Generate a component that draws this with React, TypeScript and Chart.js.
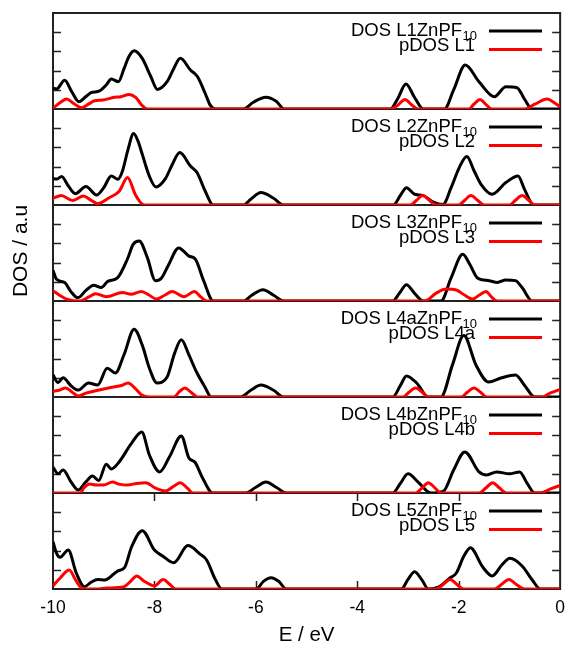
import { useEffect, useRef } from "react";
import { Chart, registerables } from "chart.js";

Chart.register(...registerables);

type Pt = [number, number];

const xTickValues = [-10, -8, -6, -4, -2, 0];
const yTickValues = [1, 2, 3, 4];
const panelNames = ["L1", "L2", "L3", "L4a", "L4b", "L5"];

const dosL1: Pt[] = [[-10,1.09],[-9.93,1.04],[-9.77,1.5],[-9.63,0.9],[-9.49,0.38],[-9.35,0.65],[-9.25,0.85],[-9.08,0.94],[-8.95,1.25],[-8.85,1.56],[-8.71,1.42],[-8.6,2.1],[-8.5,2.75],[-8.4,3.04],[-8.24,2.64],[-8.07,1.68],[-7.94,1.02],[-7.75,1.42],[-7.62,2.1],[-7.49,2.64],[-7.29,2.03],[-7.15,1.68],[-7.0,0.82],[-6.9,0.2],[-6.8,0],[-6.25,0],[-6.05,0.35],[-5.8,0.61],[-5.6,0.4],[-5.44,0],[-3.35,0],[-3.2,0.55],[-3.04,1.3],[-2.87,0.6],[-2.7,0],[-2.28,0],[-2.1,1.0],[-1.87,2.29],[-1.6,1.42],[-1.3,0.64],[-1.07,1.16],[-0.85,1.11],[-0.7,0.5],[-0.55,0],[0,0]];
const pdosL1: Pt[] = [[-10,0.05],[-9.85,0.35],[-9.73,0.52],[-9.6,0.3],[-9.44,0.07],[-9.3,0.25],[-9.18,0.43],[-9.02,0.47],[-8.79,0.61],[-8.66,0.64],[-8.5,0.76],[-8.37,0.6],[-8.25,0.2],[-8.14,0],[-3.35,0],[-3.2,0.2],[-3.06,0.5],[-2.92,0.2],[-2.8,0],[-1.8,0],[-1.7,0.25],[-1.58,0.5],[-1.45,0.2],[-1.35,0],[-0.7,0],[-0.5,0.25],[-0.26,0.52],[-0.1,0.3],[0,0.12]];

const dosL2: Pt[] = [[-10,1.37],[-9.93,1.35],[-9.83,1.48],[-9.7,1.0],[-9.56,0.59],[-9.35,0.96],[-9.14,0.52],[-9.0,0.9],[-8.85,1.51],[-8.72,1.34],[-8.63,1.77],[-8.52,2.9],[-8.41,3.72],[-8.32,3.3],[-8.24,2.64],[-8.1,1.5],[-7.97,0.94],[-7.78,1.39],[-7.65,2.1],[-7.5,2.73],[-7.29,2.03],[-7.16,1.69],[-7.0,0.73],[-6.84,0],[-6.25,0],[-6.1,0.3],[-5.9,0.65],[-5.65,0.35],[-5.45,0],[-3.29,0],[-3.15,0.5],[-3.03,0.9],[-2.87,0.56],[-2.71,0.5],[-2.5,0.15],[-2.31,0.03],[-2.15,0.9],[-1.98,2.0],[-1.84,2.52],[-1.7,1.8],[-1.56,1.08],[-1.34,0.56],[-1.07,1.17],[-0.83,1.51],[-0.7,0.8],[-0.52,0],[0,0]];
const pdosL2: Pt[] = [[-10,0.35],[-9.84,0.5],[-9.61,0.24],[-9.4,0.47],[-9.25,0.25],[-9.12,0.07],[-8.89,0.38],[-8.69,0.73],[-8.53,1.43],[-8.38,0.56],[-8.28,0.15],[-8.2,0],[-2.95,0],[-2.83,0.25],[-2.71,0.5],[-2.58,0.25],[-2.45,0],[-2.0,0],[-1.88,0.25],[-1.76,0.5],[-1.63,0.25],[-1.5,0],[-1.0,0],[-0.88,0.25],[-0.75,0.5],[-0.62,0.25],[-0.5,0],[0,0]];

const dosL3: Pt[] = [[-10,1.6],[-9.93,1.13],[-9.77,0.96],[-9.65,0.5],[-9.51,0.17],[-9.35,0.55],[-9.2,0.82],[-9.05,0.7],[-8.92,1.02],[-8.73,1.2],[-8.53,2.2],[-8.42,2.95],[-8.3,3.13],[-8.14,2.26],[-7.98,1.06],[-7.86,1.2],[-7.73,1.84],[-7.52,2.76],[-7.32,2.34],[-7.19,2.17],[-7.03,1.06],[-6.84,0],[-6.25,0],[-6.08,0.3],[-5.86,0.59],[-5.65,0.3],[-5.45,0],[-3.3,0],[-3.17,0.4],[-3.03,0.85],[-2.87,0.4],[-2.7,0],[-2.35,0],[-2.15,1.2],[-1.92,2.43],[-1.78,1.9],[-1.63,1.2],[-1.4,1.06],[-1.24,0.97],[-1.07,1.1],[-0.88,1.06],[-0.75,0.7],[-0.55,0],[0,0]];
const pdosL3: Pt[] = [[-10,0.54],[-9.87,0.3],[-9.73,0.1],[-9.47,0],[-9.3,0.2],[-9.16,0.38],[-8.95,0.22],[-8.63,0.44],[-8.46,0.35],[-8.26,0.5],[-8.1,0.3],[-7.96,0.1],[-7.8,0.3],[-7.65,0.5],[-7.42,0.22],[-7.21,0.5],[-7.08,0.2],[-6.97,0],[-2.67,0],[-2.45,0.4],[-2.25,0.62],[-2.05,0.57],[-1.88,0.3],[-1.73,0.1],[-1.6,0.3],[-1.46,0.5],[-1.35,0.2],[-1.24,0],[0,0]];

const dosL4a: Pt[] = [[-10,1.15],[-9.9,0.75],[-9.8,1.0],[-9.65,0.6],[-9.5,0.36],[-9.3,0.73],[-9.12,0.62],[-8.93,1.5],[-8.77,1.25],[-8.6,2.2],[-8.4,3.53],[-8.24,2.7],[-8.1,1.5],[-7.95,0.73],[-7.75,1.04],[-7.6,2.3],[-7.47,2.98],[-7.32,2.19],[-7.17,1.3],[-7.0,0.5],[-6.88,0],[-6.3,0],[-6.1,0.35],[-5.9,0.62],[-5.65,0.35],[-5.45,0],[-3.3,0],[-3.15,0.6],[-3.03,1.1],[-2.83,0.73],[-2.6,0],[-2.35,0],[-2.12,1.7],[-1.9,3.2],[-1.66,1.67],[-1.41,0.78],[-1.17,0.99],[-0.88,1.15],[-0.7,0.6],[-0.5,0],[0,0]];
const pdosL4a: Pt[] = [[-10,0.3],[-9.88,0.35],[-9.75,0.47],[-9.62,0.25],[-9.5,0.05],[-9.35,0.2],[-9.2,0.3],[-9.0,0.42],[-8.8,0.52],[-8.65,0.6],[-8.52,0.73],[-8.38,0.45],[-8.25,0.1],[-8.1,0],[-7.62,0],[-7.5,0.3],[-7.4,0.47],[-7.28,0.25],[-7.15,0],[-3.1,0],[-2.98,0.25],[-2.85,0.47],[-2.72,0.25],[-2.6,0],[-1.95,0],[-1.83,0.25],[-1.7,0.47],[-1.57,0.25],[-1.45,0],[-0.35,0],[-0.2,0.2],[0,0.4]];

const dosL4b: Pt[] = [[-10,1.35],[-9.9,1.0],[-9.8,1.2],[-9.65,0.6],[-9.5,0.16],[-9.36,0.55],[-9.22,0.88],[-9.1,0.65],[-8.95,1.5],[-8.85,1.25],[-8.7,1.6],[-8.45,2.6],[-8.25,3.18],[-8.1,1.98],[-7.9,1.1],[-7.7,1.9],[-7.47,2.97],[-7.32,1.82],[-7.2,1.6],[-7.05,0.78],[-6.85,0],[-6.2,0],[-6.0,0.3],[-5.8,0.57],[-5.6,0.3],[-5.4,0],[-3.3,0],[-3.15,0.5],[-3.0,1.0],[-2.8,0.57],[-2.55,0],[-2.3,0.1],[-2.1,1.2],[-1.88,2.14],[-1.6,1.1],[-1.45,0.94],[-1.25,1.1],[-1.0,1.0],[-0.8,1.1],[-0.65,0.5],[-0.5,0],[0,0]];
const pdosL4b: Pt[] = [[-10,0],[-9.47,0],[-9.38,0.3],[-9.28,0.47],[-9.15,0.42],[-9.0,0.42],[-8.83,0.57],[-8.68,0.45],[-8.53,0.42],[-8.35,0.5],[-8.17,0.54],[-7.98,0.25],[-7.78,0.1],[-7.62,0.35],[-7.49,0.54],[-7.35,0.25],[-7.24,0],[-2.85,0],[-2.72,0.27],[-2.6,0.54],[-2.47,0.27],[-2.35,0],[-1.6,0],[-1.46,0.27],[-1.33,0.54],[-1.2,0.27],[-1.05,0],[-0.4,0],[-0.2,0.2],[0,0.4]];

const dosL5: Pt[] = [[-10,2.46],[-9.93,1.86],[-9.86,1.65],[-9.7,2.03],[-9.54,0.82],[-9.38,0.12],[-9.25,0.35],[-9.12,0.5],[-8.98,0.47],[-8.72,0.95],[-8.59,1.11],[-8.45,2.2],[-8.24,3.04],[-8.0,2.03],[-7.84,1.72],[-7.62,1.37],[-7.34,2.26],[-7.1,1.82],[-6.97,1.51],[-6.8,0.5],[-6.67,0],[-5.99,0],[-5.85,0.4],[-5.7,0.59],[-5.55,0.4],[-5.4,0],[-3.13,0],[-3.0,0.5],[-2.87,0.9],[-2.72,0.45],[-2.6,0],[-2.4,0.1],[-2.18,0.56],[-2.05,0.82],[-1.9,1.7],[-1.77,2.15],[-1.53,1.16],[-1.34,0.68],[-1.15,1.25],[-0.99,1.6],[-0.75,1.2],[-0.55,0.47],[-0.39,0],[0,0]];
const pdosL5: Pt[] = [[-10,0.16],[-9.85,0.6],[-9.68,0.99],[-9.55,0.45],[-9.41,0],[-9.1,0],[-8.95,0.05],[-8.6,0.12],[-8.47,0.4],[-8.35,0.68],[-8.2,0.4],[-8.0,0.16],[-7.83,0.5],[-7.7,0.25],[-7.58,0],[-2.45,0],[-2.3,0.25],[-2.17,0.5],[-2.04,0.25],[-1.9,0],[-1.3,0],[-1.15,0.25],[-1.01,0.5],[-0.87,0.25],[-0.7,0],[0,0]];

const dosSeries = [dosL1, dosL2, dosL3, dosL4a, dosL4b, dosL5];
const pdosSeries = [pdosL1, pdosL2, pdosL3, pdosL4a, pdosL4b, pdosL5];

const FONT = "'Liberation Sans', Arial, Helvetica, sans-serif";

export default function App() {
  const ref = useRef<HTMLCanvasElement>(null);

  useEffect(() => {
    const canvas = ref.current;
    if (!canvas) return;
    const yIds = panelNames.map((_, i) => "y" + i);

    const framePlugin = {
      id: "framePlugin",
      beforeDatasetsDraw(chart: any) {
        const ctx = chart.ctx;
        const a = chart.chartArea;
        ctx.save();
        ctx.strokeStyle = "#222";
        ctx.lineWidth = 2;
        ctx.strokeRect(a.left, a.top, a.right - a.left, a.bottom - a.top);
        yIds.forEach((id, i) => {
          const s = chart.scales[id];
          if (i < yIds.length - 1) {
            ctx.lineWidth = 2;
            ctx.beginPath();
            ctx.moveTo(a.left, s.bottom);
            ctx.lineTo(a.right, s.bottom);
            ctx.stroke();
          }
          ctx.lineWidth = 1.5;
          yTickValues.forEach((v) => {
            const y = Math.round(s.getPixelForValue(v)) + 0.5;
            ctx.beginPath();
            ctx.moveTo(a.left, y);
            ctx.lineTo(a.left + 8, y);
            ctx.moveTo(a.right, y);
            ctx.lineTo(a.right - 8, y);
            ctx.stroke();
          });
        });
        const last = chart.scales[yIds[yIds.length - 1]];
        const xs = chart.scales.x;
        ctx.lineWidth = 1.5;
        xTickValues.slice(1, -1).forEach((v) => {
          const x = Math.round(xs.getPixelForValue(v)) + 0.5;
          ctx.beginPath();
          ctx.moveTo(x, last.bottom);
          ctx.lineTo(x, last.bottom - 8);
          ctx.moveTo(x, last.top);
          ctx.lineTo(x, last.top + 8);
          ctx.stroke();
        });
        ctx.restore();
      },
      afterDatasetsDraw(chart: any) {
        const ctx = chart.ctx;
        ctx.save();
        ctx.fillStyle = "#000";
        yIds.forEach((id, i) => {
          const s = chart.scales[id];
          const top = s.top;
          ctx.font = `13px ${FONT}`;
          ctx.textBaseline = "alphabetic";
          const w10 = ctx.measureText("10").width;
          ctx.textAlign = "left";
          ctx.fillText("10", 477 - w10, top + 27);
          ctx.font = `18.5px ${FONT}`;
          ctx.textAlign = "right";
          ctx.fillText(`DOS ${panelNames[i]}ZnPF`, 477 - w10 - 0.5, top + 23);
          ctx.fillText(`pDOS ${panelNames[i]}`, 475, top + 38);
          ctx.lineWidth = 3;
          ctx.strokeStyle = "#000";
          ctx.beginPath();
          ctx.moveTo(489, top + 18);
          ctx.lineTo(542, top + 18);
          ctx.stroke();
          ctx.strokeStyle = "#ff0000";
          ctx.beginPath();
          ctx.moveTo(489, top + 36.5);
          ctx.lineTo(542, top + 36.5);
          ctx.stroke();
        });
        ctx.translate(21, 251);
        ctx.rotate(-Math.PI / 2);
        ctx.font = `21px ${FONT}`;
        ctx.textAlign = "center";
        ctx.textBaseline = "middle";
        ctx.fillText("DOS / a.u", 0, 0);
        ctx.restore();
      },
    };

    const scales: any = {
      x: {
        type: "linear",
        position: "bottom",
        min: -10,
        max: 0,
        ticks: { stepSize: 2, color: "#000", font: { family: FONT, size: 17.5 }, padding: 9 },
        grid: { display: false, drawTicks: false },
        border: { display: false },
        title: {
          display: true,
          text: "E / eV",
          color: "#000",
          font: { family: FONT, size: 20.5, lineHeight: 1 },
          padding: { top: 0, bottom: 0 },
        },
        afterFit: (s: any) => {
          s.height = 57;
        },
      },
    };
    yIds.forEach((id, i) => {
      scales[id] = {
        type: "linear",
        position: "left",
        stack: "panels",
        stackWeight: 1,
        weight: yIds.length - i,
        min: 0,
        max: 5,
        display: true,
        ticks: { display: false },
        grid: { display: false, drawTicks: false },
        border: { display: false },
        afterFit: (s: any) => {
          s.width = 0;
        },
      };
    });

    const datasets: any[] = [];
    dosSeries.forEach((ser, i) => {
      datasets.push({
        label: `DOS ${panelNames[i]}ZnPF10`,
        data: ser.map(([x, y]) => ({ x, y })),
        yAxisID: yIds[i],
        borderColor: "#000",
        borderWidth: 3,
        pointRadius: 0,
        fill: false,
        cubicInterpolationMode: "monotone",
        order: 2,
      });
    });
    pdosSeries.forEach((ser, i) => {
      datasets.push({
        label: `pDOS ${panelNames[i]}`,
        data: ser.map(([x, y]) => ({ x, y })),
        yAxisID: yIds[i],
        borderColor: "#ff0000",
        borderWidth: 3,
        pointRadius: 0,
        fill: false,
        cubicInterpolationMode: "monotone",
        order: 1,
      });
    });

    const chart = new Chart(canvas, {
      type: "line",
      data: { datasets },
      options: {
        responsive: false,
        animation: false,
        layout: { padding: { left: 53, right: 9, top: 13, bottom: 0 } },
        plugins: { legend: { display: false }, tooltip: { enabled: false } },
        scales,
      },
      plugins: [framePlugin],
    } as any);

    return () => chart.destroy();
  }, []);

  return (
    <div style={{ position: "fixed", left: 0, top: 0, width: 574, height: 646, background: "#fff" }}>
      <canvas ref={ref} width={574} height={646} style={{ display: "block" }} />
    </div>
  );
}
